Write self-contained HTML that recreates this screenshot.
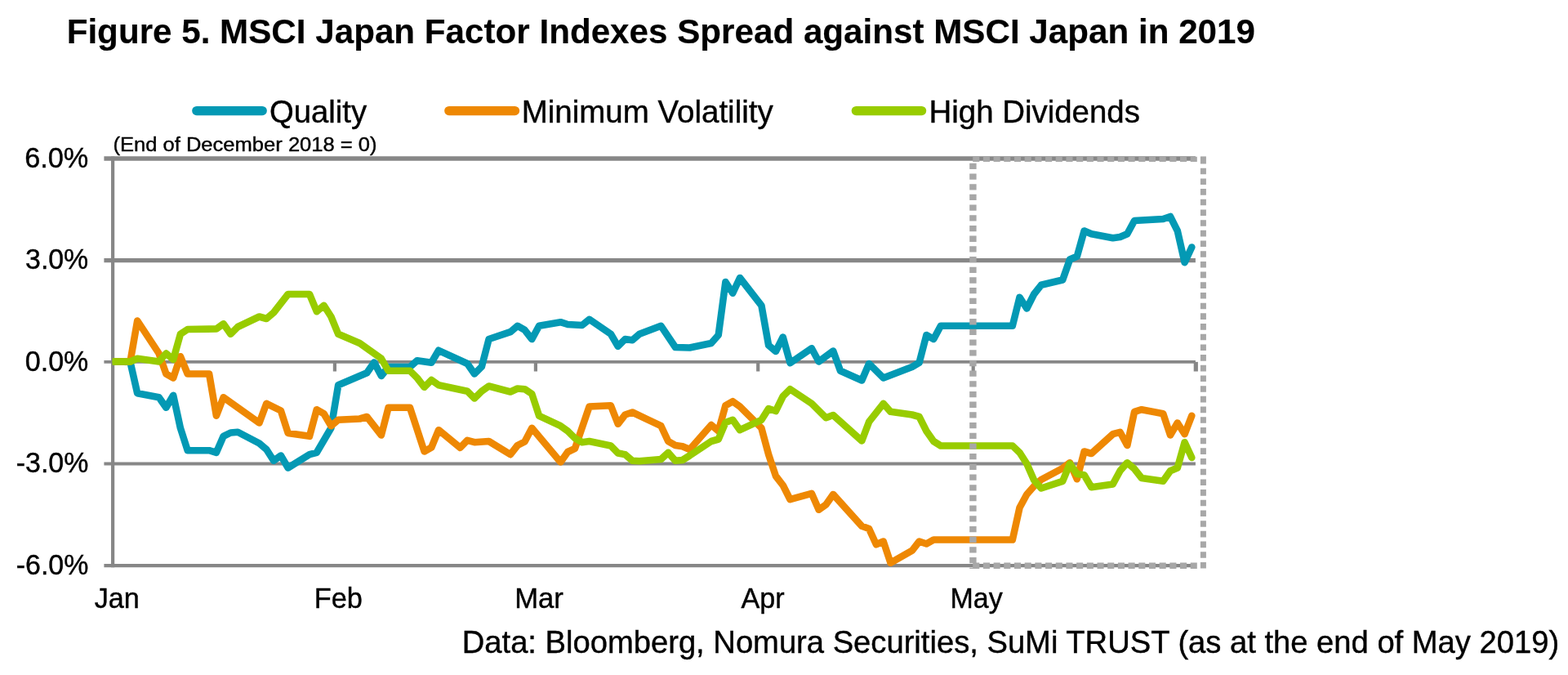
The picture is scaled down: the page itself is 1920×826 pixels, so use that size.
<!DOCTYPE html>
<html lang="en"><head><meta charset="utf-8"><title>Figure 5. MSCI Japan Factor Indexes Spread against MSCI Japan in 2019</title>
<style>
html,body{margin:0;padding:0;background:#fff;}
body{width:1920px;height:826px;position:relative;overflow:hidden;font-family:"Liberation Sans",Arial,Helvetica,sans-serif;}
</style></head><body>
<svg width="1920" height="826" viewBox="0 0 1920 826" style="position:absolute;left:0;top:0">
<rect width="1920" height="826" fill="#fff"/>
<line x1="127.4" y1="194.10" x2="1463.9" y2="194.10" stroke="#878787" stroke-width="5.5"/>
<line x1="127.4" y1="318.60" x2="1463.9" y2="318.60" stroke="#878787" stroke-width="5.2"/>
<line x1="127.4" y1="442.90" x2="1463.9" y2="442.90" stroke="#878787" stroke-width="3.9"/>
<line x1="127.4" y1="567.50" x2="1463.9" y2="567.50" stroke="#878787" stroke-width="3.9"/>
<line x1="127.4" y1="692.20" x2="1463.9" y2="692.20" stroke="#878787" stroke-width="4.2"/>
<line x1="138.1" y1="191.5" x2="138.1" y2="694.3" stroke="#878787" stroke-width="4.2"/>
<line x1="409.90" y1="442.9" x2="409.90" y2="454.5" stroke="#878787" stroke-width="4.2"/>
<line x1="655.90" y1="442.9" x2="655.90" y2="454.5" stroke="#878787" stroke-width="4.2"/>
<line x1="928.20" y1="442.9" x2="928.20" y2="454.5" stroke="#878787" stroke-width="4.2"/>
<line x1="1191.70" y1="442.9" x2="1191.70" y2="454.5" stroke="#878787" stroke-width="4.2"/>
<line x1="1464.30" y1="442.9" x2="1464.30" y2="454.5" stroke="#878787" stroke-width="5.2"/>
<path d="M141.9 442.5 L159.5 443.0 L168.2 481.2 L194.6 486.2 L203.4 498.8 L212.2 483.8 L220.9 523.8 L229.7 551.2 L256.1 551.2 L264.9 553.8 L273.6 533.8 L282.4 529.5 L291.2 528.8 L317.5 542.5 L326.3 550.0 L335.1 563.8 L343.9 557.5 L352.7 572.5 L379.0 556.2 L387.8 553.8 L405.4 523.8 L414.2 471.2 L449.3 456.2 L458.1 443.5 L466.9 460.0 L475.6 449.0 L502.0 449.0 L510.8 441.2 L528.3 443.8 L537.1 428.8 L572.3 445.0 L581.0 457.5 L589.8 448.8 L598.6 415.0 L625.0 406.2 L633.7 398.8 L642.5 403.8 L651.3 415.0 L660.1 398.8 L686.4 394.2 L695.2 397.0 L712.8 398.0 L721.6 390.8 L747.9 408.8 L756.7 423.8 L765.5 415.0 L774.3 416.2 L783.0 408.8 L809.4 398.8 L827.0 425.0 L844.5 425.5 L870.9 420.0 L879.7 410.0 L888.4 345.0 L897.2 358.8 L906.0 340.0 L932.4 373.8 L941.1 422.5 L949.9 430.0 L958.7 412.5 L967.5 444.2 L993.8 426.2 L1002.6 442.5 L1020.2 429.5 L1029.0 453.8 L1055.3 465.5 L1064.1 445.0 L1081.7 462.5 L1116.8 449.0 L1125.6 443.8 L1134.4 410.0 L1143.2 415.0 L1151.9 398.8 L1239.8 398.8 L1248.5 363.8 L1257.3 377.5 L1266.1 360.0 L1274.9 348.8 L1301.2 342.5 L1310.0 317.5 L1318.8 313.8 L1327.6 282.5 L1336.4 286.2 L1362.7 291.2 L1371.5 290.0 L1380.3 286.2 L1389.1 270.0 L1424.2 268.0 L1433.0 265.0 L1441.8 282.5 L1450.6 321.2 L1459.3 302.5" fill="none" stroke="#0399b4" stroke-width="8.6" stroke-linejoin="round" stroke-linecap="round"/>
<path d="M141.9 442.5 L159.5 442.5 L168.2 392.5 L194.6 432.5 L203.4 457.5 L212.2 462.5 L220.9 436.2 L229.7 457.5 L256.1 457.5 L264.9 508.8 L273.6 486.2 L317.5 517.5 L326.3 493.8 L343.9 502.5 L352.7 530.0 L379.0 533.8 L387.8 501.2 L396.6 506.2 L405.4 521.2 L414.2 513.8 L440.5 512.5 L449.3 510.0 L466.9 532.5 L475.6 498.8 L502.0 498.8 L519.6 552.5 L528.3 547.5 L537.1 526.2 L563.5 547.8 L572.3 538.8 L581.0 541.2 L598.6 540.0 L625.0 556.2 L633.7 545.0 L642.5 540.5 L651.3 523.8 L686.4 565.5 L695.2 553.0 L704.0 548.8 L721.6 497.5 L747.9 496.2 L756.7 518.8 L765.5 507.5 L774.3 504.5 L809.4 521.2 L818.2 540.0 L827.0 545.0 L835.7 546.2 L844.5 550.0 L870.9 520.0 L879.7 527.5 L888.4 496.2 L897.2 491.2 L906.0 497.5 L932.4 523.8 L941.1 556.2 L949.9 582.5 L958.7 593.8 L967.5 611.2 L993.8 603.8 L1002.6 623.8 L1011.4 617.5 L1020.2 605.0 L1055.3 643.8 L1064.1 647.0 L1072.9 666.2 L1081.7 662.5 L1090.5 688.8 L1116.8 673.8 L1125.6 662.5 L1134.4 665.5 L1143.2 660.5 L1239.8 660.5 L1248.5 621.2 L1257.3 605.0 L1266.1 595.0 L1274.9 587.0 L1301.2 573.0 L1310.0 566.2 L1318.8 586.2 L1327.6 552.5 L1336.4 555.0 L1362.7 531.2 L1371.5 528.8 L1380.3 545.0 L1389.1 503.8 L1397.9 501.2 L1424.2 506.2 L1433.0 532.5 L1441.8 517.5 L1450.6 531.2 L1459.3 508.8" fill="none" stroke="#ee8803" stroke-width="8.6" stroke-linejoin="round" stroke-linecap="round"/>
<path d="M141.9 442.5 L159.5 442.5 L168.2 438.8 L194.6 442.5 L203.4 432.5 L212.2 440.0 L220.9 408.8 L229.7 403.0 L264.9 402.5 L273.6 396.2 L282.4 408.8 L291.2 400.0 L317.5 387.5 L326.3 390.0 L335.1 382.5 L352.7 360.0 L379.0 360.0 L387.8 381.2 L396.6 373.8 L405.4 387.5 L414.2 408.8 L440.5 420.0 L466.9 438.8 L475.6 453.8 L502.0 453.8 L510.8 462.5 L519.6 473.8 L528.3 465.0 L537.1 471.2 L572.3 478.8 L581.0 487.5 L589.8 478.8 L598.6 472.5 L625.0 479.5 L633.7 475.5 L642.5 476.2 L651.3 482.0 L660.1 508.8 L686.4 521.2 L695.2 527.5 L704.0 536.2 L712.8 541.2 L721.6 540.0 L747.9 545.5 L756.7 554.5 L765.5 556.2 L774.3 563.8 L783.0 564.2 L809.4 562.0 L818.2 553.8 L827.0 563.8 L835.7 563.0 L844.5 557.5 L870.9 540.0 L879.7 537.5 L888.4 517.0 L897.2 513.8 L906.0 526.2 L932.4 513.8 L941.1 500.0 L949.9 503.0 L958.7 485.0 L967.5 476.2 L993.8 493.8 L1011.4 511.2 L1020.2 508.0 L1055.3 539.5 L1064.1 516.2 L1081.7 493.8 L1090.5 503.8 L1116.8 507.5 L1125.6 510.0 L1134.4 527.5 L1143.2 540.0 L1151.9 545.5 L1239.8 545.5 L1248.5 553.8 L1257.3 567.5 L1266.1 587.5 L1274.9 597.5 L1301.2 588.8 L1310.0 567.5 L1318.8 580.0 L1327.6 581.2 L1336.4 596.2 L1362.7 592.5 L1371.5 576.2 L1380.3 566.2 L1389.1 573.8 L1397.9 585.0 L1424.2 588.8 L1433.0 576.2 L1441.8 572.5 L1450.6 541.2 L1459.3 560.0" fill="none" stroke="#98cc00" stroke-width="8.6" stroke-linejoin="round" stroke-linecap="round"/>
<line x1="137.6" y1="442.5" x2="143" y2="442.5" stroke="#98cc00" stroke-width="8.6"/>
<line x1="1191.2" y1="194.8" x2="1465.8" y2="194.8" stroke="#a7a7a7" stroke-width="6.2" stroke-dasharray="8.1 4.59"/>
<line x1="1191.2" y1="692.25" x2="1465.8" y2="692.25" stroke="#a7a7a7" stroke-width="7.5" stroke-dasharray="8.1 4.59"/>
<line x1="1191.4" y1="199.75" x2="1191.4" y2="696" stroke="#a7a7a7" stroke-width="8.4" stroke-dasharray="7.3 5.39"/>
<line x1="1473.4" y1="193" x2="1473.4" y2="696" stroke="#a7a7a7" stroke-width="7" stroke-dasharray="7.6 5.09"/>
<rect x="1469.9" y="191.4" width="7" height="2" fill="#a7a7a7"/>
<line x1="240.8" y1="135.6" x2="321.2" y2="135.6" stroke="#0399b4" stroke-width="11.3" stroke-linecap="round"/>
<line x1="549.8" y1="135.6" x2="630.5" y2="135.6" stroke="#ee8803" stroke-width="11.3" stroke-linecap="round"/>
<line x1="1048.3" y1="135.6" x2="1128.6" y2="135.6" stroke="#98cc00" stroke-width="11.3" stroke-linecap="round"/>
<text transform="translate(81.64 52.90) scale(1.0042 1.025)" font-size="42" font-weight="bold" fill="#000" font-family="Liberation Sans, Arial, Helvetica, sans-serif" stroke="#000" stroke-width="0.15">Figure 5. MSCI Japan Factor Indexes Spread against MSCI Japan in 2019</text>
<text transform="translate(330.04 149.60) scale(1.0065 1.025)" font-size="38" font-weight="normal" fill="#000" font-family="Liberation Sans, Arial, Helvetica, sans-serif" stroke="#000" stroke-width="0.4">Quality</text>
<text transform="translate(638.66 149.60) scale(1.0133 1.025)" font-size="38" font-weight="normal" fill="#000" font-family="Liberation Sans, Arial, Helvetica, sans-serif" stroke="#000" stroke-width="0.4">Minimum Volatility</text>
<text transform="translate(1137.46 149.60) scale(1.0117 1.025)" font-size="38" font-weight="normal" fill="#000" font-family="Liberation Sans, Arial, Helvetica, sans-serif" stroke="#000" stroke-width="0.4">High Dividends</text>
<text transform="translate(138.41 185.40) scale(1.0570 1.0)" font-size="24.2" font-weight="normal" fill="#000" font-family="Liberation Sans, Arial, Helvetica, sans-serif" stroke="#000" stroke-width="0.4">(End of December 2018 = 0)</text>
<text transform="translate(30.14 204.80) scale(1.0081 1.025)" font-size="34" font-weight="normal" fill="#000" font-family="Liberation Sans, Arial, Helvetica, sans-serif" stroke="#000" stroke-width="0.4">6.0%</text>
<text transform="translate(31.05 329.30) scale(0.9960 1.025)" font-size="34" font-weight="normal" fill="#000" font-family="Liberation Sans, Arial, Helvetica, sans-serif" stroke="#000" stroke-width="0.4">3.0%</text>
<text transform="translate(30.85 453.60) scale(0.9987 1.025)" font-size="34" font-weight="normal" fill="#000" font-family="Liberation Sans, Arial, Helvetica, sans-serif" stroke="#000" stroke-width="0.4">0.0%</text>
<text transform="translate(19.75 578.20) scale(0.9971 1.025)" font-size="34" font-weight="normal" fill="#000" font-family="Liberation Sans, Arial, Helvetica, sans-serif" stroke="#000" stroke-width="0.4">-3.0%</text>
<text transform="translate(19.75 702.90) scale(0.9971 1.025)" font-size="34" font-weight="normal" fill="#000" font-family="Liberation Sans, Arial, Helvetica, sans-serif" stroke="#000" stroke-width="0.4">-6.0%</text>
<text transform="translate(115.75 743.50) scale(1.0048 1.025)" font-size="34" font-weight="normal" fill="#000" font-family="Liberation Sans, Arial, Helvetica, sans-serif" stroke="#000" stroke-width="0.4">Jan</text>
<text transform="translate(384.72 743.50) scale(1.0092 1.025)" font-size="34" font-weight="normal" fill="#000" font-family="Liberation Sans, Arial, Helvetica, sans-serif" stroke="#000" stroke-width="0.4">Feb</text>
<text transform="translate(630.20 743.50) scale(1.0181 1.025)" font-size="34" font-weight="normal" fill="#000" font-family="Liberation Sans, Arial, Helvetica, sans-serif" stroke="#000" stroke-width="0.4">Mar</text>
<text transform="translate(907.50 743.50) scale(1.0048 1.025)" font-size="34" font-weight="normal" fill="#000" font-family="Liberation Sans, Arial, Helvetica, sans-serif" stroke="#000" stroke-width="0.4">Apr</text>
<text transform="translate(1163.50 743.50) scale(1.0000 1.025)" font-size="34" font-weight="normal" fill="#000" font-family="Liberation Sans, Arial, Helvetica, sans-serif" stroke="#000" stroke-width="0.4">May</text>
<text transform="translate(565.74 799.00) scale(1.0049 1.025)" font-size="38" font-weight="normal" fill="#000" font-family="Liberation Sans, Arial, Helvetica, sans-serif" stroke="#000" stroke-width="0.4">Data: Bloomberg, Nomura Securities, SuMi TRUST (as at the end of May 2019)</text>
</svg>
</body></html>
